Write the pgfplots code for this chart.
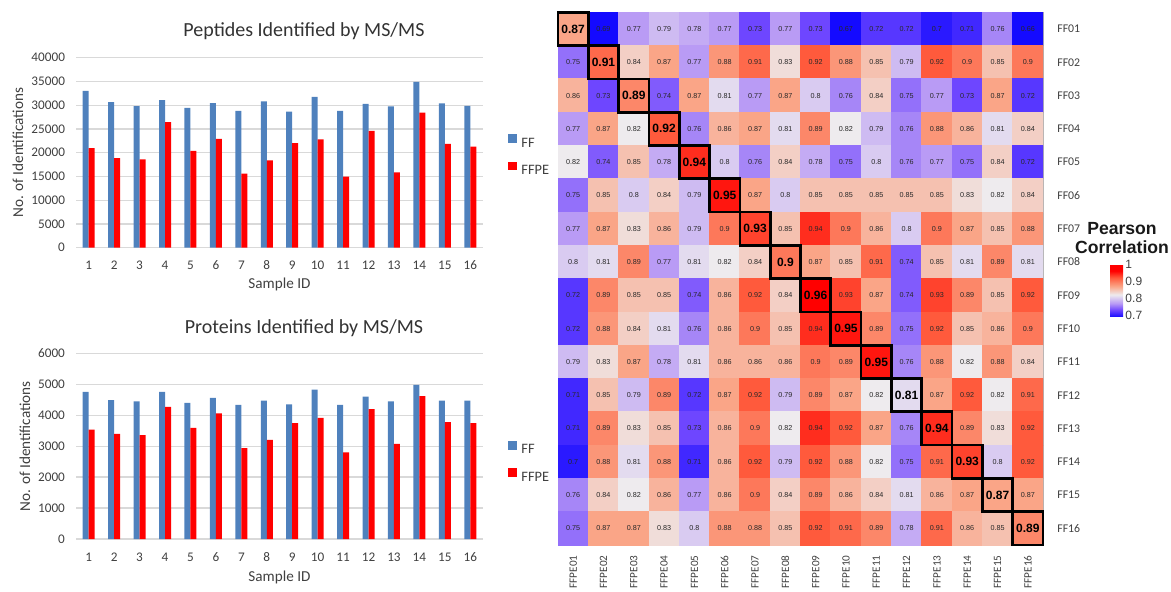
\documentclass[border=0pt]{standalone}
\usepackage{pgfplots}
\usepackage{pgfplotstable}
\usepackage{fontspec}
\setmainfont{Carlito}
\newfontfamily\arial{Liberation Sans}
\pgfplotsset{compat=1.18}
\definecolor{ffblue}{RGB}{79,129,189}
\definecolor{ffred}{RGB}{255,0,0}
\definecolor{gridc}{RGB}{217,217,217}
\definecolor{txt}{RGB}{64,64,64}
\definecolor{celltxt}{RGB}{40,40,40}

\pgfplotstableread{
x ff ffpe
1 33000 20940
2 30650 18850
3 29800 18570
4 31070 26460
5 29460 20380
6 30440 22900
7 28830 15570
8 30790 18360
9 28620 21990
10 31760 22830
11 28830 14940
12 30300 24570
13 29740 15850
14 34900 28410
15 30370 21850
16 29880 21290
}\pep

\pgfplotstableread{
x ff ffpe
1 4750 3530
2 4490 3400
3 4450 3360
4 4750 4270
5 4400 3590
6 4560 4060
7 4330 2940
8 4470 3200
9 4350 3740
10 4830 3910
11 4330 2800
12 4600 4200
13 4450 3070
14 4980 4620
15 4470 3780
16 4470 3740
}\prot

\pgfplotstableread[row sep=\\]{
col row c\\
0 0 0.87\\ 1 0 0.69\\ 2 0 0.77\\ 3 0 0.79\\ 4 0 0.78\\ 5 0 0.77\\ 6 0 0.73\\ 7 0 0.77\\ 8 0 0.73\\ 9 0 0.67\\ 10 0 0.72\\ 11 0 0.72\\ 12 0 0.7\\ 13 0 0.71\\ 14 0 0.76\\ 15 0 0.66\\
0 1 0.75\\ 1 1 0.91\\ 2 1 0.84\\ 3 1 0.87\\ 4 1 0.77\\ 5 1 0.88\\ 6 1 0.91\\ 7 1 0.83\\ 8 1 0.92\\ 9 1 0.88\\ 10 1 0.85\\ 11 1 0.79\\ 12 1 0.92\\ 13 1 0.9\\ 14 1 0.85\\ 15 1 0.9\\
0 2 0.86\\ 1 2 0.73\\ 2 2 0.89\\ 3 2 0.74\\ 4 2 0.87\\ 5 2 0.81\\ 6 2 0.77\\ 7 2 0.87\\ 8 2 0.8\\ 9 2 0.76\\ 10 2 0.84\\ 11 2 0.75\\ 12 2 0.77\\ 13 2 0.73\\ 14 2 0.87\\ 15 2 0.72\\
0 3 0.77\\ 1 3 0.87\\ 2 3 0.82\\ 3 3 0.92\\ 4 3 0.76\\ 5 3 0.86\\ 6 3 0.87\\ 7 3 0.81\\ 8 3 0.89\\ 9 3 0.82\\ 10 3 0.79\\ 11 3 0.76\\ 12 3 0.88\\ 13 3 0.86\\ 14 3 0.81\\ 15 3 0.84\\
0 4 0.82\\ 1 4 0.74\\ 2 4 0.85\\ 3 4 0.78\\ 4 4 0.94\\ 5 4 0.8\\ 6 4 0.76\\ 7 4 0.84\\ 8 4 0.78\\ 9 4 0.75\\ 10 4 0.8\\ 11 4 0.76\\ 12 4 0.77\\ 13 4 0.75\\ 14 4 0.84\\ 15 4 0.72\\
0 5 0.75\\ 1 5 0.85\\ 2 5 0.8\\ 3 5 0.84\\ 4 5 0.79\\ 5 5 0.95\\ 6 5 0.87\\ 7 5 0.8\\ 8 5 0.85\\ 9 5 0.85\\ 10 5 0.85\\ 11 5 0.85\\ 12 5 0.85\\ 13 5 0.83\\ 14 5 0.82\\ 15 5 0.84\\
0 6 0.77\\ 1 6 0.87\\ 2 6 0.83\\ 3 6 0.86\\ 4 6 0.79\\ 5 6 0.9\\ 6 6 0.93\\ 7 6 0.85\\ 8 6 0.94\\ 9 6 0.9\\ 10 6 0.86\\ 11 6 0.8\\ 12 6 0.9\\ 13 6 0.87\\ 14 6 0.85\\ 15 6 0.88\\
0 7 0.8\\ 1 7 0.81\\ 2 7 0.89\\ 3 7 0.77\\ 4 7 0.81\\ 5 7 0.82\\ 6 7 0.84\\ 7 7 0.9\\ 8 7 0.87\\ 9 7 0.85\\ 10 7 0.91\\ 11 7 0.74\\ 12 7 0.85\\ 13 7 0.81\\ 14 7 0.89\\ 15 7 0.81\\
0 8 0.72\\ 1 8 0.89\\ 2 8 0.85\\ 3 8 0.85\\ 4 8 0.74\\ 5 8 0.86\\ 6 8 0.92\\ 7 8 0.84\\ 8 8 0.96\\ 9 8 0.93\\ 10 8 0.87\\ 11 8 0.74\\ 12 8 0.93\\ 13 8 0.89\\ 14 8 0.85\\ 15 8 0.92\\
0 9 0.72\\ 1 9 0.88\\ 2 9 0.84\\ 3 9 0.81\\ 4 9 0.76\\ 5 9 0.86\\ 6 9 0.9\\ 7 9 0.85\\ 8 9 0.94\\ 9 9 0.95\\ 10 9 0.89\\ 11 9 0.75\\ 12 9 0.92\\ 13 9 0.85\\ 14 9 0.86\\ 15 9 0.9\\
0 10 0.79\\ 1 10 0.83\\ 2 10 0.87\\ 3 10 0.78\\ 4 10 0.81\\ 5 10 0.86\\ 6 10 0.86\\ 7 10 0.86\\ 8 10 0.9\\ 9 10 0.89\\ 10 10 0.95\\ 11 10 0.76\\ 12 10 0.88\\ 13 10 0.82\\ 14 10 0.88\\ 15 10 0.84\\
0 11 0.71\\ 1 11 0.85\\ 2 11 0.79\\ 3 11 0.89\\ 4 11 0.72\\ 5 11 0.87\\ 6 11 0.92\\ 7 11 0.79\\ 8 11 0.89\\ 9 11 0.87\\ 10 11 0.82\\ 11 11 0.81\\ 12 11 0.87\\ 13 11 0.92\\ 14 11 0.82\\ 15 11 0.91\\
0 12 0.71\\ 1 12 0.89\\ 2 12 0.83\\ 3 12 0.85\\ 4 12 0.73\\ 5 12 0.86\\ 6 12 0.9\\ 7 12 0.82\\ 8 12 0.94\\ 9 12 0.92\\ 10 12 0.87\\ 11 12 0.76\\ 12 12 0.94\\ 13 12 0.89\\ 14 12 0.83\\ 15 12 0.92\\
0 13 0.7\\ 1 13 0.88\\ 2 13 0.81\\ 3 13 0.88\\ 4 13 0.71\\ 5 13 0.86\\ 6 13 0.92\\ 7 13 0.79\\ 8 13 0.92\\ 9 13 0.88\\ 10 13 0.82\\ 11 13 0.75\\ 12 13 0.91\\ 13 13 0.93\\ 14 13 0.8\\ 15 13 0.92\\
0 14 0.76\\ 1 14 0.84\\ 2 14 0.82\\ 3 14 0.86\\ 4 14 0.77\\ 5 14 0.86\\ 6 14 0.9\\ 7 14 0.84\\ 8 14 0.89\\ 9 14 0.86\\ 10 14 0.84\\ 11 14 0.81\\ 12 14 0.86\\ 13 14 0.87\\ 14 14 0.87\\ 15 14 0.87\\
0 15 0.75\\ 1 15 0.87\\ 2 15 0.87\\ 3 15 0.83\\ 4 15 0.8\\ 5 15 0.88\\ 6 15 0.88\\ 7 15 0.85\\ 8 15 0.92\\ 9 15 0.91\\ 10 15 0.89\\ 11 15 0.78\\ 12 15 0.91\\ 13 15 0.86\\ 14 15 0.85\\ 15 15 0.89\\
}\corr

\pgfplotsset{
  barchart/.style={
    scale only axis, width=203.5pt,
    ybar=0pt, bar width=3pt,
    xmin=0.5, xmax=16.5, enlarge x limits=false,
    xtick={1,...,16}, ymin=0,
    ymajorgrids, grid style={gridc, line width=0.6pt},
    axis line style={draw=none}, major tick length=0pt,
    ticklabel style={font=\fontsize{6.6}{7}\selectfont, text=txt},
    /pgf/number format/assume math mode=true,
    /pgf/number format/1000 sep={},
    scaled y ticks=false,
    xticklabel style={anchor=center, yshift=-8.65pt},
    yticklabel style={anchor=east, xshift=-2pt},
    xlabel={Sample ID}, ylabel={No. of Identifications},
    label style={font=\fontsize{7.6}{8}\selectfont, text=txt},
    xlabel style={at={(axis description cs:0.5,0)}, anchor=center, yshift=-18.15pt},
    title style={font=\fontsize{10}{12}\selectfont, text=black!80, at={(axis description cs:0.5,1)}, anchor=center, xshift=12.25pt},
    legend style={draw=none, fill=none, inner sep=0pt, anchor=west,
      font=\fontsize{7.2}{8}\selectfont, text=txt, row sep=7pt, column sep=2pt,
      nodes={inner sep=0pt, text height=4.6pt, text depth=0pt}},
    legend image code/.code={\fill[#1] (0pt,-0.1pt) rectangle (4.5pt,4.3pt);},
    legend cell align=left,
  }
}

\begin{document}
\begin{tikzpicture}
\useasboundingbox (0,0) rectangle (585.5pt,-296pt);

% Peptides
\begin{axis}[barchart,
  at={(38pt,-123.85pt)}, anchor=south west, height=95pt,
  ymax=40000, ytick={0,5000,...,40000},
  title={Peptides Identified by MS/MS},
  title style={yshift=7.5pt},
  ylabel style={at={(axis description cs:-0.1425,0.5)}, anchor=center},
  legend style={at={(axis description cs:1,0.5)}, xshift=12.5pt, yshift=-1pt},
]
\addplot[fill=ffblue, draw=none] table[x=x, y=ff] {\pep};
\addlegendentry{FF}
\addplot[fill=ffred, draw=none] table[x=x, y=ffpe] {\pep};
\addlegendentry{FFPE}
\end{axis}

% Proteins
\begin{axis}[barchart,
  at={(38pt,-269.5pt)}, anchor=south west, height=92.85pt,
  ymax=6000, ytick={0,1000,...,6000},
  title={Proteins Identified by MS/MS},
  title style={yshift=6.8pt},
  xlabel style={yshift=-0.85pt},
  xticklabel style={yshift=-0.35pt},
  ylabel style={at={(axis description cs:-0.1253,0.5)}, anchor=center},
  legend style={at={(axis description cs:1,0.5)}, xshift=12.5pt, yshift=-7.4pt},
]
\addplot[fill=ffblue, draw=none] table[x=x, y=ff] {\prot};
\addlegendentry{FF}
\addplot[fill=ffred, draw=none] table[x=x, y=ffpe] {\prot};
\addlegendentry{FFPE}
\end{axis}

% Heatmap
\begin{axis}[
  at={(279pt,-272.5pt)}, anchor=south west,
  scale only axis, width=242.5pt, height=266.35pt,
  xmin=-0.5, xmax=15.5, ymin=-0.5, ymax=15.5, y dir=reverse,
  enlargelimits=false,
  xtick={0,...,15}, ytick={0,...,15},
  xticklabels={FFPE01,FFPE02,FFPE03,FFPE04,FFPE05,FFPE06,FFPE07,FFPE08,FFPE09,FFPE10,FFPE11,FFPE12,FFPE13,FFPE14,FFPE15,FFPE16},
  yticklabels={FF01,FF02,FF03,FF04,FF05,FF06,FF07,FF08,FF09,FF10,FF11,FF12,FF13,FF14,FF15,FF16},
  yticklabel pos=right,
  major tick length=0pt,
  axis line style={gray!60, line width=0.5pt},
  xticklabel style={rotate=90, anchor=east, inner xsep=5pt, inner ysep=0pt, font=\fontsize{5.6}{6}\selectfont, text=txt},
  yticklabel style={anchor=west, inner xsep=0pt, xshift=7pt, font=\fontsize{5.9}{6}\selectfont, text=txt},
  colormap={pearson}{rgb255(69pt)=(20,10,255); rgb255(73pt)=(110,70,255); rgb255(77pt)=(185,155,245); rgb255(82pt)=(238,235,238); rgb255(87pt)=(250,165,135); rgb255(92pt)=(255,90,60); rgb255(96pt)=(255,0,0); rgb255(100pt)=(255,0,0)},
  point meta min=0.69, point meta max=1.0,
  colorbar,
  colorbar style={
    at={(parent axis.north east)}, anchor=north west,
    xshift=25pt, yshift=-125.85pt,
    scale only axis, width=6.5pt, height=26.5pt,
    y dir=normal, ytick={0.7,0.8,0.9,1}, yticklabels={0.7,0.8,0.9,1},
    yticklabel pos=right,
    major tick length=0pt, axis line style={draw=none},
    yticklabel style={font=\arial\fontsize{6}{7}\selectfont, text=txt, anchor=west, xshift=0pt, inner xsep=1pt, rotate=0},
  },
]
\addplot[matrix plot*, mesh/cols=16, mesh/rows=16, point meta=explicit]
  table[x=col, y=row, meta=c] {\corr};
\addplot[draw=none, mark=none, point meta=explicit symbolic,
  nodes near coords, nodes near coords align=center,
  every node near coord/.append style={font=\arial\fontsize{3.6}{4}\selectfont, text=celltxt, inner sep=0pt},
  y filter/.expression={x==y ? nan : y}, unbounded coords=discard, filter discard warning=false]
  table[x=col, y=row, meta=c] {\corr};
\addplot[only marks, color=black, mark=square, mark size=7.578pt,
  mark options={draw=black, line width=1.35pt, yscale=1.0984},
  point meta=explicit symbolic,
  nodes near coords, nodes near coords align=center,
  every node near coord/.append style={font=\arial\bfseries\fontsize{6}{7}\selectfont, text=black, inner sep=0pt},
  y filter/.expression={x==y ? y : nan}, unbounded coords=discard, filter discard warning=false]
  table[x=col, y=row, meta=c] {\corr};
\end{axis}

\node[align=center, font=\arial\bfseries\fontsize{8.8}{9.5}\selectfont, text=black!90] at (561pt,-119.25pt) {Pearson\\Correlation};
\end{tikzpicture}
\end{document}
